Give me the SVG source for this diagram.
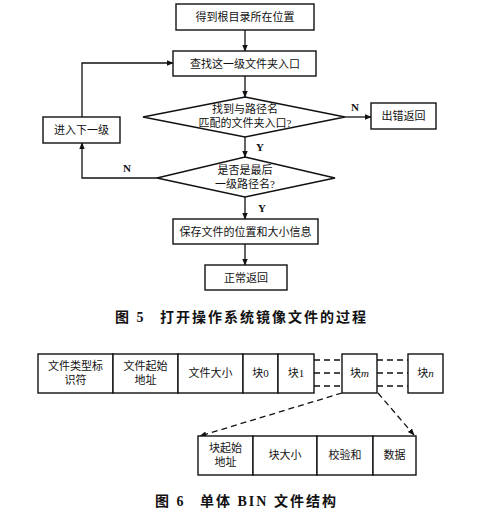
<svg xmlns="http://www.w3.org/2000/svg" width="500" height="509" viewBox="0 0 500 509">
<style>
.box{fill:#fff;stroke:#111;stroke-width:1.4}
.ln{fill:none;stroke:#111;stroke-width:1.3}
.dl{fill:none;stroke:#111;stroke-width:1.3;stroke-dasharray:6,4}
.t{font-family:"Liberation Serif","Noto Sans CJK SC",serif;font-size:11px;fill:#111;text-anchor:middle}
.lb{font-family:"Liberation Serif",serif;font-size:11px;font-weight:bold;fill:#111;text-anchor:middle}
.cap{font-family:"Liberation Serif","Noto Sans CJK SC",serif;font-size:14px;font-weight:bold;fill:#111;letter-spacing:2px}
</style>
<defs>
<marker id="ar" viewBox="0 0 10 10" refX="9" refY="5" markerWidth="7" markerHeight="7" orient="auto" markerUnits="userSpaceOnUse">
<path d="M0,1 L10,5 L0,9 Z" fill="#111"/>
</marker>
</defs>
<rect width="500" height="509" fill="#fff"/>
<g id="connectors">
<line class="ln" x1="245" y1="30" x2="245" y2="51" marker-end="url(#ar)"/>
<line class="ln" x1="245" y1="76" x2="245" y2="97" marker-end="url(#ar)"/>
<line class="ln" x1="245" y1="137" x2="245" y2="157" marker-end="url(#ar)"/>
<line class="ln" x1="245" y1="197" x2="245" y2="219" marker-end="url(#ar)"/>
<line class="ln" x1="245" y1="244" x2="245" y2="265" marker-end="url(#ar)"/>
<line class="ln" x1="345" y1="117" x2="371" y2="117" marker-end="url(#ar)"/>
<polyline class="ln" points="157,178 82,178 82,143" marker-end="url(#ar)"/>
<polyline class="ln" points="82,117 82,63 173,63" marker-end="url(#ar)"/>
<text class="lb" x="355" y="111">N</text>
<text class="lb" x="260" y="151">Y</text>
<text class="lb" x="127" y="172">N</text>
<text class="lb" x="262" y="212">Y</text>
<line class="dl" x1="314" y1="360" x2="342" y2="360"/>
<line class="dl" x1="314" y1="373" x2="342" y2="373"/>
<line class="dl" x1="314" y1="386" x2="342" y2="386"/>
<line class="dl" x1="377" y1="360" x2="408" y2="360"/>
<line class="dl" x1="377" y1="373" x2="408" y2="373"/>
<line class="dl" x1="377" y1="386" x2="408" y2="386"/>
<line class="dl" x1="342" y1="393" x2="200" y2="436" marker-end="url(#ar)"/>
<line class="dl" x1="378" y1="393" x2="414" y2="435" marker-end="url(#ar)"/>
</g>
<g id="n1"><rect class="box" x="176" y="4" width="138" height="26"/><text class="t" x="245" y="21">得到根目录所在位置</text></g>
<g id="n2"><rect class="box" x="173" y="51" width="143" height="25"/><text class="t" x="245" y="68">查找这一级文件夹入口</text></g>
<g id="n3"><polygon class="box" points="245,97 345,117 245,137 143,117"/><text class="t" x="245" y="113">找到与路径名</text><text class="t" x="245" y="127">匹配的文件夹入口?</text></g>
<g id="n4"><rect class="box" x="371" y="103" width="65" height="26"/><text class="t" x="403.5" y="120">出错返回</text></g>
<g id="n5"><rect class="box" x="43" y="117" width="77" height="26"/><text class="t" x="81.5" y="134">进入下一级</text></g>
<g id="n6"><polygon class="box" points="245,157 335,178 245,197 157,178"/><text class="t" x="245" y="174">是否是最后</text><text class="t" x="245" y="188">一级路径名?</text></g>
<g id="n7"><rect class="box" x="173" y="219" width="145" height="25"/><text class="t" x="245.5" y="236">保存文件的位置和大小信息</text></g>
<g id="n8"><rect class="box" x="205" y="265" width="82" height="25"/><text class="t" x="246" y="282">正常返回</text></g>
<text class="cap" x="115" y="322">图 5</text>
<text class="cap" x="160" y="322">打开操作系统镜像文件的过程</text>
<g id="row1">
<rect class="box" x="38" y="354" width="75" height="39"/><text class="t" x="75.5" y="370">文件类型标</text><text class="t" x="75.5" y="384">识符</text>
<rect class="box" x="113" y="354" width="65" height="39"/><text class="t" x="145.5" y="370">文件起始</text><text class="t" x="145.5" y="384">地址</text>
<rect class="box" x="178" y="354" width="65" height="39"/><text class="t" x="210.5" y="377">文件大小</text>
<rect class="box" x="243" y="354" width="35" height="39"/><text class="t" x="260.5" y="377">块0</text>
<rect class="box" x="278" y="354" width="36" height="39"/><text class="t" x="296" y="377">块1</text>
</g>
<g id="blockm"><rect class="box" x="342" y="354" width="35" height="39"/><text class="t" x="359.5" y="377">块<tspan font-style="italic">m</tspan></text></g>
<g id="blockn"><rect class="box" x="408" y="354" width="35" height="39"/><text class="t" x="425.5" y="377">块<tspan font-style="italic">n</tspan></text></g>
<g id="row2">
<rect class="box" x="198" y="436" width="55" height="39"/><text class="t" x="225.5" y="452">块起始</text><text class="t" x="225.5" y="466">地址</text>
<rect class="box" x="253" y="436" width="64" height="39"/><text class="t" x="285" y="459">块大小</text>
<rect class="box" x="317" y="436" width="56" height="39"/><text class="t" x="345" y="459">校验和</text>
<rect class="box" x="373" y="436" width="43" height="39"/><text class="t" x="394.5" y="459">数据</text>
</g>
<text class="cap" x="155" y="506">图 6</text>
<text class="cap" x="200" y="506" letter-spacing="1">单体 BIN 文件结构</text>
</svg>
